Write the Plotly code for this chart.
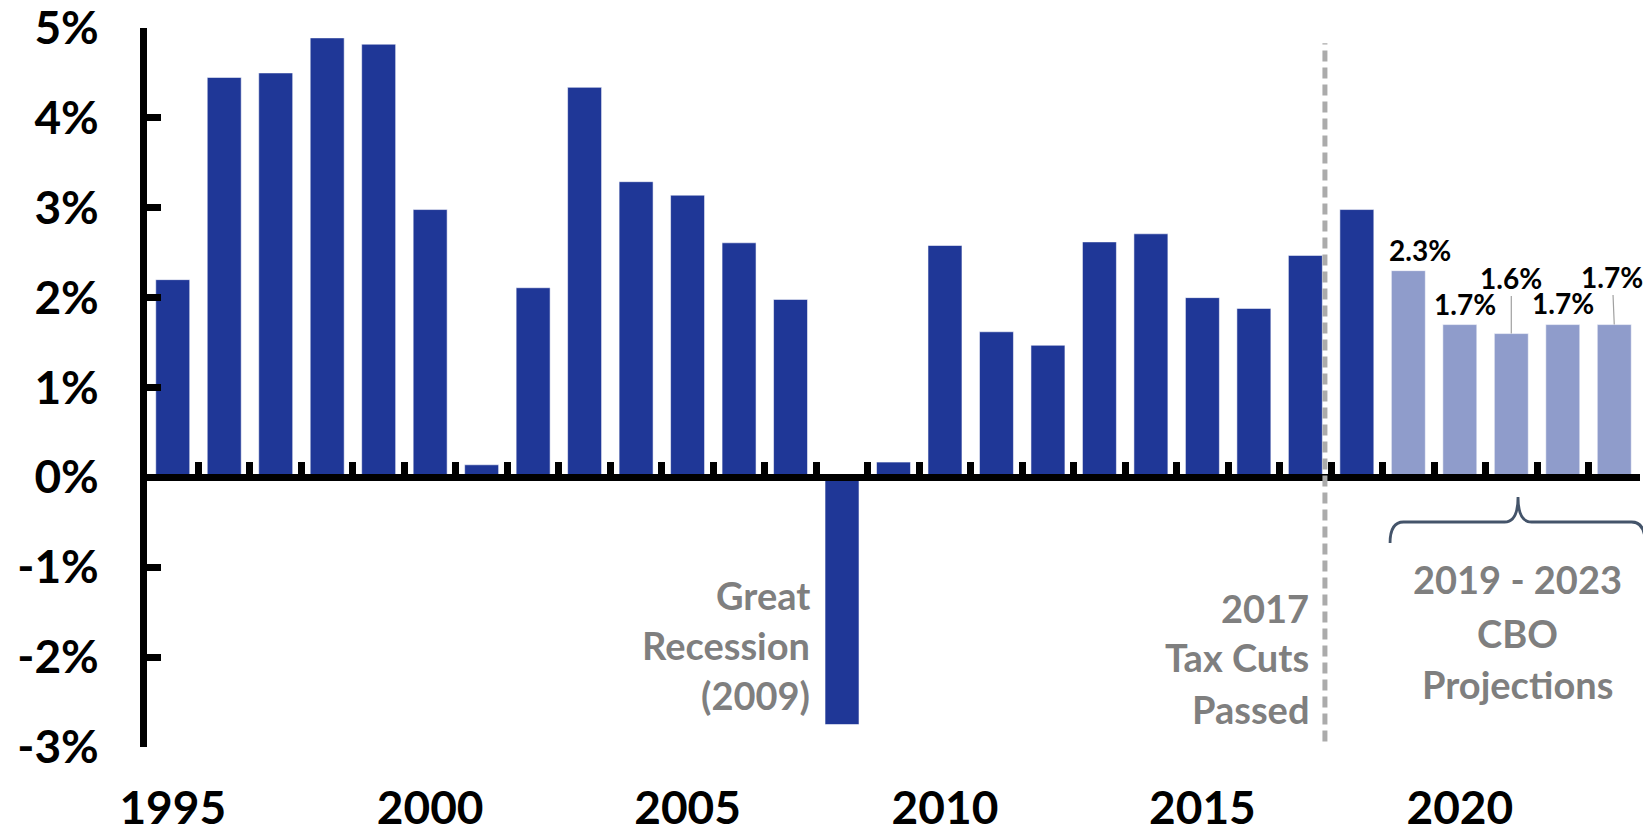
import plotly.graph_objects as go

# ---- data ----
years = [str(y) for y in range(1995, 2024)]
growth = [2.2, 4.45, 4.5, 4.89, 4.82, 2.98, 0.14, 2.11, 4.34, 3.29, 3.14, 2.61, 1.98,
          -2.75, 0.17, 2.58, 1.62, 1.47, 2.62, 2.71, 2.0, 1.88, 2.47, 2.98,
          2.3, 1.7, 1.6, 1.7, 1.7]
first_projection_year = 2019
x_tick_years = ["1995", "2000", "2005", "2010", "2015", "2020"]
y_tick_vals = [-3, -2, -1, 0, 1, 2, 3, 4, 5]
y_tick_text = [f"{v}%" for v in y_tick_vals]
proj_label_years = ["2019", "2020", "2021", "2022", "2023"]
proj_label_vals = [2.3, 1.7, 1.6, 1.7, 1.7]

DARK = "#1F3797"
LIGHT = "#8F9CCB"
GRAY = "#7F7F7F"
FONT = "Lato"

colors = [LIGHT if int(y) >= first_projection_year else DARK for y in years]
idx = {y: i for i, y in enumerate(years)}

fig = go.Figure()
fig.add_trace(go.Bar(
    x=years, y=growth, width=0.66,
    marker=dict(color=colors, line=dict(color="rgba(255,255,255,0.55)", width=1)),
    hoverinfo="x+y", showlegend=False,
))

n = len(years)
fig.update_layout(
    width=1651, height=833,
    margin=dict(l=139, r=19, t=20, b=94, pad=0, autoexpand=False),
    plot_bgcolor="white", paper_bgcolor="white",
    font=dict(family=FONT, color="black"),
    showlegend=False,
    xaxis=dict(
        type="category", range=[-0.5, n - 0.5], automargin=False,
        tickmode="array", tickvals=x_tick_years, ticktext=x_tick_years,
        ticks="", showline=False, showgrid=False, zeroline=False,
        tickfont=dict(family=FONT, size=46, color="black", weight="bold"),
        ticklabelstandoff=30, ticklabeloverflow="allow",
    ),
    xaxis2=dict(
        overlaying="x", anchor="free", position=3 / 8, side="bottom",
        range=[-0.5, n - 0.5], automargin=False,
        tickmode="array", tickvals=[i + 0.5 for i in range(n)],
        showticklabels=False,
        ticks="inside", ticklen=12, tickwidth=7, tickcolor="black",
        showline=True, linewidth=7, linecolor="black",
        showgrid=False, zeroline=False, layer="above traces",
    ),
    yaxis=dict(
        range=[-3, 5], tickmode="array", tickvals=y_tick_vals, ticktext=y_tick_text,
        automargin=False, ticklabeloverflow="allow",
        ticks="inside", ticklen=14, tickwidth=7, tickcolor="black",
        showline=True, linewidth=7, linecolor="black",
        showgrid=False, zeroline=False, layer="above traces",
        tickfont=dict(family=FONT, size=46, color="black", weight="bold"),
        ticklabelstandoff=32,
    ),
)

# dashed divider (2017 tax cuts)
fig.add_shape(type="line", xref="x2", yref="y", x0=22.38, x1=22.38, y0=-2.94, y1=4.83,
              line=dict(color="#ABABAB", width=5, dash="11px,6px"), layer="above")

# curly brace under projections (paper coords)
x0, xm, x1 = 0.8326, 0.9183, 1.0034
yt, yl, ye = 0.3477, 0.3129, 0.2837
r = 0.009
path = (f"M {x0} {ye} Q {x0} {yl} {x0 + r} {yl} L {xm - r} {yl} "
        f"Q {xm} {yl} {xm} {yt} Q {xm} {yl} {xm + r} {yl} "
        f"L {x1 - r} {yl} Q {x1} {yl} {x1} {ye}")
fig.add_shape(type="path", xref="paper", yref="paper", path=path,
              line=dict(color="#44546A", width=2.8), layer="above")

gray_font = dict(family=FONT, size=38, color=GRAY, weight="bold")
text_blocks = [
    (idx["2008"] - 0.5, "right", -4, ["Great", "Recession", "(2009)"], [-1.31, -1.87, -2.42]),
    (idx["2017"] + 0.5, "right", -20, ["2017", "Tax Cuts", "Passed"], [-1.45, -2.0, -2.58]),
    (26.12, "center", 0, ["2019 - 2023", "CBO", "Projections"], [-1.13, -1.73, -2.30]),
]
for xpos, anchor, xs, lines, ys in text_blocks:
    for txt, yv in zip(lines, ys):
        fig.add_annotation(xref="x2", yref="y", x=xpos, y=yv, text=txt,
                           xanchor=anchor, yanchor="middle", xshift=xs,
                           showarrow=False, font=gray_font)

label_font = dict(family=FONT, size=28, color="black", weight="bold")
shifts = {"2019": (12, 21, None), "2020": (5, 21, None), "2021": (0, 0, -56),
          "2022": (0, 22, None), "2023": (-2, 0, -48)}
for yr, v in zip(proj_label_years, proj_label_vals):
    xs, ys, ay = shifts[yr]
    if ay is None:
        fig.add_annotation(xref="x2", yref="y", x=idx[yr], y=v, text=f"{v}%",
                           showarrow=False, xshift=xs, yshift=ys, yanchor="middle",
                           font=label_font)
    else:
        fig.add_annotation(xref="x2", yref="y", x=idx[yr], y=v, text=f"{v}%",
                           showarrow=True, arrowhead=0, arrowwidth=1.2,
                           arrowcolor="#A0A0A0", ax=xs, ay=ay, font=label_font)

fig.write_html("out.html")
